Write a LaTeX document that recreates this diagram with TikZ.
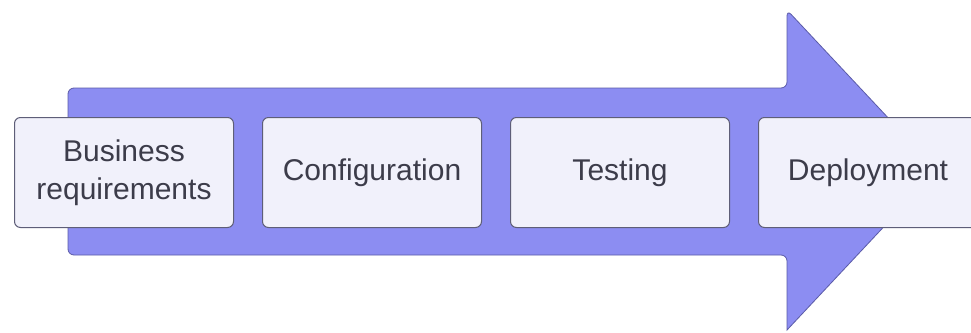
\documentclass[tikz,border=0pt]{standalone}
\usepackage{fontspec}
\setmainfont{Liberation Sans}
\definecolor{arrowfill}{HTML}{8C8DF2}
\definecolor{arrowline}{HTML}{5B5BA8}
\definecolor{boxfill}{HTML}{F1F1FB}
\definecolor{boxline}{HTML}{5E5E78}
\definecolor{txt}{HTML}{3C3C4A}
\begin{document}
\begin{tikzpicture}[x=1pt,y=-1pt,
  stagebox/.style={draw=boxline,line width=1pt,fill=boxfill,rounded corners=6pt,
    minimum width=219pt,minimum height=110pt,inner sep=0pt,
    text=txt,font=\fontsize{30}{38}\selectfont,align=center,anchor=north west}]
\useasboundingbox (0,0) rectangle (971,332);
\fill[white] (0,0) rectangle (971,332);
\draw[fill=arrowfill,draw=arrowline,line width=0.8pt,rounded corners=6pt]
  (68,88) -- (787,88) -- (787,10) [sharp corners] -- (937,170) -- (787,330) [rounded corners=6pt] -- (787,255) -- (68,255) -- cycle;
\node[stagebox] (b1) at (14,117) {Business\\requirements};
\node[stagebox] (b2) at (262,117) {Configuration};
\node[stagebox] (b3) at (510,117) {Testing};
\node[stagebox] (b4) at (758,117) {Deployment};
\end{tikzpicture}
\end{document}
